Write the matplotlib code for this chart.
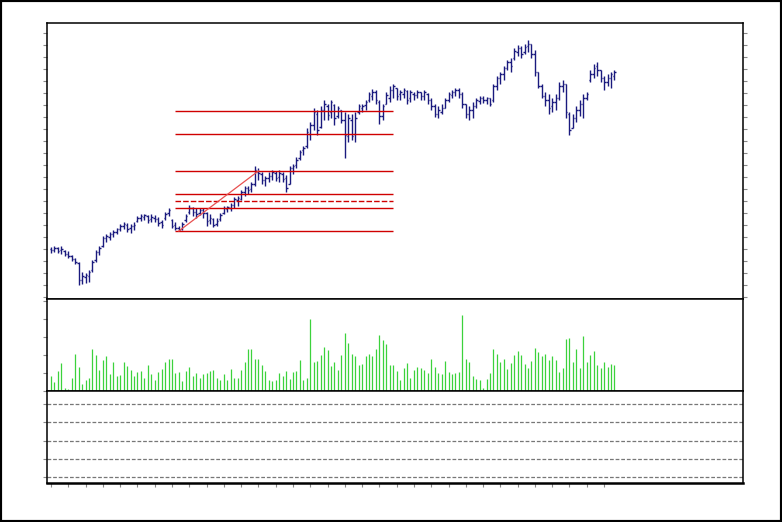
import numpy as np
import matplotlib
matplotlib.use("Agg")
import matplotlib.pyplot as plt
from matplotlib.patches import Rectangle

# ---------------- data ----------------
high = [53, 54, 53, 54, 50, 49, 45, 42, 38, 28, 27, 30, 40,
        50, 54, 64, 66, 68, 70, 72, 76, 78, 77, 76, 78, 84, 86, 86, 85, 86, 85, 83, 80, 88, 92, 81, 78, 74, 78,
        86, 95, 93, 92, 92, 92, 88, 86, 82, 82, 87, 94, 94, 97, 103, 104, 110, 114, 114, 118, 134, 132, 128, 124,
        128, 130, 129, 130, 128, 125, 134, 136, 143, 150,
        154, 172, 178, 192, 190, 194, 200, 196, 200, 196, 194, 190, 188, 186, 186, 188, 196, 196, 200, 208, 211,
        210, 200, 196, 208, 214, 216, 212, 210, 212, 210, 210, 208, 210, 208, 210, 207, 202, 196, 194, 196, 202,
        208, 210, 212, 212, 208, 196, 194, 198, 202, 204, 204, 203, 202, 216, 224, 228, 234, 240, 242,
        252, 255, 254, 256, 260, 256, 250, 228, 216, 208, 206, 202, 206, 218, 220, 216, 188, 186, 194, 200, 206,
        208, 230, 236, 238, 230, 224, 226, 228, 230]
low = [47, 48, 47, 46, 44, 42, 39, 36, 15, 16, 17, 18, 28,
       38, 45, 53, 58, 60, 63, 66, 69, 71, 68, 67, 70, 78, 79, 80, 77, 78, 78, 74, 72, 80, 84, 72, 70, 69, 70,
       78, 86, 84, 82, 85, 82, 74, 76, 73, 74, 79, 86, 88, 89, 92, 94, 100, 104, 106, 108, 114, 120, 116, 114,
       118, 120, 119, 118, 118, 108, 116, 126, 132, 140,
       145, 152, 160, 170, 165, 172, 180, 180, 182, 175, 182, 177, 142, 158, 160, 158, 186, 188, 190, 198, 200,
       196, 176, 180, 196, 198, 202, 200, 200, 202, 196, 198, 200, 202, 200, 200, 196, 190, 183, 182, 186, 192,
       198, 202, 204, 202, 192, 182, 180, 182, 192, 196, 197, 196, 194, 198, 210, 216, 220, 230, 228,
       240, 244, 242, 246, 248, 242, 224, 212, 202, 194, 186, 188, 190, 200, 208, 182, 165, 172, 178, 184, 182,
       200, 218, 222, 224, 218, 210, 214, 212, 220]
open_ = [51, 50, 52, 50, 49, 46, 44, 41, 37, 20, 23, 24, 30,
         40, 48, 54, 62, 63, 66, 68, 71, 74, 75, 72, 74, 79, 82, 83, 84, 81, 82, 81, 78, 82, 87, 80, 75, 72, 71,
         80, 88, 92, 88, 87, 90, 87, 80, 81, 76, 81, 87, 91, 92, 95, 100, 101, 108, 112, 111, 116, 128, 126, 120,
         122, 124, 127, 123, 126, 122, 116, 132, 135, 142,
         150, 154, 166, 175, 186, 173, 190, 194, 188, 195, 184, 190, 180, 164, 180, 166, 188, 192, 195, 200, 204,
         208, 198, 184, 196, 202, 210, 212, 206, 206, 209, 202, 206, 205, 208, 204, 206, 200, 194, 186, 188, 192,
         200, 205, 208, 210, 206, 196, 186, 190, 194, 199, 202, 200, 202, 200, 214, 222, 226, 232, 238,
         242, 248, 252, 248, 254, 256, 246, 228, 214, 204, 200, 194, 198, 202, 214, 216, 186, 172, 182, 190, 196,
         202, 220, 226, 234, 230, 222, 218, 222, 224]
close = [50, 52, 49, 51, 46, 44, 41, 38, 20, 24, 25, 28, 38,
         48, 52, 62, 64, 66, 68, 71, 74, 76, 71, 74, 75, 82, 84, 85, 80, 83, 81, 77, 75, 86, 90, 74, 72, 70, 76,
         84, 92, 88, 86, 90, 87, 79, 82, 75, 79, 85, 92, 93, 95, 101, 102, 108, 112, 110, 116, 130, 127, 120, 122,
         124, 128, 122, 127, 121, 112, 132, 134, 140, 148,
         152, 168, 175, 188, 170, 190, 196, 185, 198, 182, 192, 180, 165, 182, 164, 182, 194, 194, 198, 206, 208,
         200, 184, 194, 205, 210, 214, 204, 208, 210, 200, 208, 205, 208, 204, 208, 200, 194, 186, 190, 192, 200,
         206, 208, 210, 206, 196, 186, 190, 194, 200, 202, 200, 202, 196, 214, 222, 226, 232, 238, 234,
         249, 252, 246, 253, 256, 246, 228, 214, 204, 200, 192, 198, 202, 214, 216, 188, 170, 182, 190, 196, 202,
         206, 226, 232, 230, 222, 218, 222, 226, 228]
volume = [15, 9, 20, 28, 3, 2, 13, 37, 24, 7, 11, 13, 42, 36, 21, 31, 35, 17, 29, 15,
          16, 29, 25, 21, 15, 19, 20, 13, 26, 17, 11, 19, 22, 29, 32, 32, 18, 19, 10, 20,
          24, 15, 18, 13, 17, 18, 20, 21, 13, 11, 17, 11, 22, 13, 13, 21, 29, 42, 42, 32,
          32, 26, 20, 11, 10, 11, 18, 15, 20, 12, 19, 20,
          31, 11, 13, 72, 29, 30, 36, 44, 41, 25, 29, 21, 36, 58, 48, 37, 35, 26, 27, 35,
          37, 35, 42, 56, 51, 47, 26, 26, 20, 11, 23, 28, 13, 21, 24, 23, 21, 18, 32, 24,
          18, 17, 30, 19, 17, 18, 19, 76, 32, 29, 15, 12, 11, 3, 12, 18, 42, 37, 29, 32,
          22, 28, 36, 40, 36, 27, 23, 30, 43, 39, 35, 37, 31, 35, 31, 19, 23, 52, 53, 29,
          42, 23, 55, 29, 36, 40, 26, 23, 29, 24, 27, 26]

fib_anchor_idx = [37, 60]        # swing low bar, swing high bar
fib_anchor_price = [69, 129]     # swing low, swing high
fib_ratios = [0.0, 0.382, 0.5, 0.618, 1.0, -0.618, -1.0]
fib_dashed = [0.5]
fib_span = [36, 99]              # bar range of the horizontal levels

price_ticks = np.arange(3, 270, 12)
volume_ticks = np.arange(0, 92, 18)
osc_levels = [6, 26, 46, 66, 86]
x_ticks = np.arange(0, 164, 5)

# ---------------- drawing ----------------
W, H = 782, 522
fig = plt.figure(figsize=(W / 100, H / 100), dpi=100)
fig.patch.set_facecolor("white")

def frac(x0, y0, x1, y1):
    return [x0 / W, 1 - y1 / H, (x1 - x0) / W, (y1 - y0) / H]

ax_p = fig.add_axes(frac(47, 23.3, 743, 299.3))
ax_v = fig.add_axes(frac(47, 299.3, 743, 391), sharex=ax_p)
ax_o = fig.add_axes(frac(47, 391, 743, 482.7), sharex=ax_p)

n = len(close)
idx = np.arange(n)
bar_col = "#1a1a7e"
tw = 0.42

ax_p.vlines(idx, low, high, color=bar_col, lw=1.0)
ax_p.hlines(open_, idx - tw, idx, color=bar_col, lw=1.0)
ax_p.hlines(close, idx, idx + tw, color=bar_col, lw=1.0)

lo, hi = fib_anchor_price
rng = hi - lo
for r in fib_ratios:
    lvl = hi - r * rng
    ls = (0, (4, 1.5)) if r in fib_dashed else "-"
    ax_p.hlines(lvl, fib_span[0], fib_span[1], color="#d00000", lw=1.0, linestyle=ls)
ax_p.plot(fib_anchor_idx, fib_anchor_price, color="#e85050", lw=0.9)

ax_v.vlines(idx, 0, volume, color="#3cd23c", lw=0.9)

for lv in osc_levels:
    ax_o.axhline(lv, color="#777777", lw=0.9, linestyle=(0, (3, 1.5)))

ax_p.set_xlim(-1.16, 200.2)
ax_p.set_ylim(0.7, 276.7)
ax_v.set_ylim(0, 92)
ax_o.set_ylim(0, 100)

for ax in (ax_p, ax_v, ax_o):
    for s in ax.spines.values():
        s.set_color("black")
        s.set_linewidth(1.1)
    ax.tick_params(axis="both", direction="out", length=3, width=0.8, color="#888888",
                   labelleft=False, labelbottom=False, labelright=False, labeltop=False,
                   bottom=False, top=False, left=True, right=False)
ax_o.spines["bottom"].set_linewidth(1.8)

ax_p.set_yticks(price_ticks)
ax_p.tick_params(axis="y", right=True)
ax_v.set_yticks(volume_ticks)
ax_o.set_yticks(osc_levels)
ax_o.set_xticks(x_ticks)
ax_o.tick_params(axis="x", bottom=True, length=3)

fig.patches.append(Rectangle((0, 0), 1, 1, transform=fig.transFigure, fill=False,
                             lw=3, ec="black"))

fig.savefig("out.png", dpi=100, facecolor="white")
